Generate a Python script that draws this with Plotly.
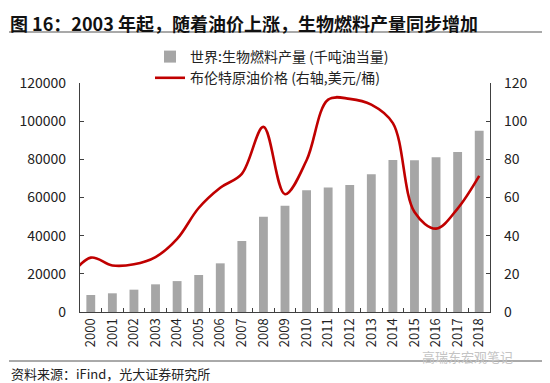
import plotly.graph_objects as go

# ---- data ----
years = [str(y) for y in range(2000, 2019)]
biofuel = [8900, 9800, 11700, 14500, 16200, 19400, 25500, 37200, 49950, 55700,
           63800, 65300, 66500, 72200, 79700, 79500, 81100, 83900, 95000]
oil_years = list(range(1999, 2019))
brent = [18.0, 28.5, 24.4, 25.0, 28.8, 38.3, 54.5, 65.1, 72.4, 97.0, 61.7,
         79.5, 111.3, 111.7, 108.7, 99.0, 52.4, 43.7, 54.2, 71.3]

left_ticks = [0, 20000, 40000, 60000, 80000, 100000, 120000]
left_labels = [str(v) for v in left_ticks]
right_ticks = [0, 20, 40, 60, 80, 100, 120]

title_text = "图 16：2003 年起，随着油价上涨，生物燃料产量同步增加"
source_text = "资料来源：iFind，光大证券研究所"
watermark = "高瑞东宏观笔记"
bar_name = "世界:生物燃料产量 (千吨油当量)"
line_name = "布伦特原油价格 (右轴,美元/桶)"

# ---- layout geometry (page has an 8px body margin) ----
OFF = 8
W, H = 550 - OFF, 383 - OFF
L, R, T, B = 80 - OFF, 490 - OFF, 83 - OFF, 312 - OFF


def px(x):
    return (x - OFF - L) / (R - L)


def py(y):
    return (B - (y - OFF)) / (B - T)


FONT = "Noto Sans CJK SC"
AX = "#404040"

fig = go.Figure()
fig.add_trace(go.Bar(
    x=years, y=biofuel, name=bar_name,
    marker=dict(color="#A6A6A6", line=dict(width=0)),
    width=0.41, xaxis="x", yaxis="y",
))
fig.add_trace(go.Scatter(
    x=oil_years, y=brent, name=line_name, mode="lines",
    line=dict(color="#C00000", width=2.6, shape="spline", smoothing=1.0),
    xaxis="x2", yaxis="y2",
))

fig.update_layout(
    width=W, height=H,
    margin=dict(l=L, r=W - R, t=T, b=H - B, pad=0, autoexpand=False),
    paper_bgcolor="white", plot_bgcolor="white",
    font=dict(family=FONT, size=14, color="#222"),
    showlegend=True,
    legend=dict(
        x=px(150), y=py(41), xanchor="left", yanchor="top",
        bgcolor="rgba(0,0,0,0)", font=dict(size=14, color="#222"),
        tracegroupgap=0, itemwidth=30,
    ),
    xaxis=dict(
        type="category", range=[-0.5, 18.5], tickson="boundaries",
        ticks="inside", ticklen=4, tickcolor=AX,
        showline=True, linecolor=AX, linewidth=1.2,
        tickangle=-90, tickfont=dict(size=13, color="#222"),
        showgrid=False, zeroline=False,
    ),
    xaxis2=dict(
        overlaying="x", range=[1999.5, 2018.5], visible=False,
    ),
    yaxis=dict(
        range=[0, 120000], tickvals=left_ticks, ticktext=left_labels,
        ticks="inside", ticklen=4, tickcolor=AX,
        showline=True, linecolor=AX, linewidth=1.2,
        showgrid=False, zeroline=False, ticklabelstandoff=10,
        tickfont=dict(size=14, color="#222"),
    ),
    yaxis2=dict(
        overlaying="y", side="right", anchor="x",
        range=[0, 120], tickvals=right_ticks,
        ticks="inside", ticklen=4, tickcolor=AX,
        showline=True, linecolor=AX, linewidth=1.2,
        showgrid=False, zeroline=False, ticklabelstandoff=10,
        tickfont=dict(size=14, color="#222"),
    ),
)

# title and rules
fig.add_annotation(
    text="<b>" + title_text + "</b>", xref="paper", yref="paper",
    x=px(OFF + 1), y=py(OFF + 0.5), xanchor="left", yanchor="top",
    showarrow=False, borderpad=0,
    font=dict(size=18, color="#111", family=FONT),
)
fig.add_shape(type="line", xref="paper", yref="paper",
              x0=px(9), x1=px(549), y0=py(32), y1=py(32),
              line=dict(color="#555", width=1.2))
fig.add_shape(type="line", xref="paper", yref="paper",
              x0=px(9), x1=px(549), y0=py(361), y1=py(361),
              line=dict(color="#555", width=1))
fig.add_annotation(
    text=source_text, xref="paper", yref="paper",
    x=px(9), y=py(373), xanchor="left", yanchor="middle",
    showarrow=False, font=dict(size=13, color="#222", family=FONT),
)
fig.add_annotation(
    text=watermark, xref="paper", yref="paper",
    x=px(420), y=py(356), xanchor="left", yanchor="middle",
    showarrow=False, font=dict(size=13, color="#c4c4c4", family=FONT),
)

fig.write_html("out.html")
